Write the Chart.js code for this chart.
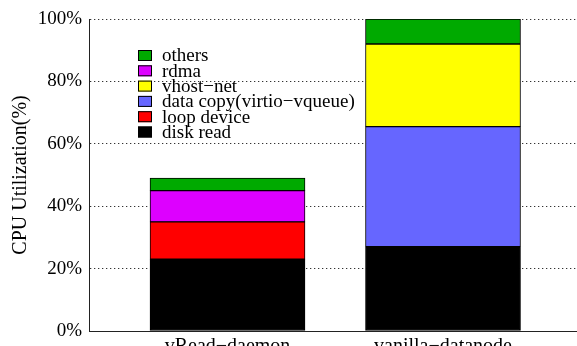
<!DOCTYPE html>
<html>
<head>
<meta charset="utf-8">
<script src="https://cdn.jsdelivr.net/npm/chart.js@4/dist/chart.umd.min.js"></script>
<style>
  html, body { margin: 0; padding: 0; background: #fff; overflow: hidden; }
  canvas { display: block; }
</style>
</head>
<body>
<canvas id="cpu" width="577" height="360"></canvas>
<script>
// Workloads on the x axis
const categories = ['vRead\u2212daemon', 'vanilla\u2212datanode'];

// CPU utilization per component (%), stacked bottom to top
const diskRead   = [23, 27];
const loopDevice = [12, null];
const dataCopy   = [null, 38.5];
const vhostNet   = [null, 26.5];
const rdma       = [10, null];
const others     = [4, 8];

// Y tick values (%)
const yTicks = [0, 20, 40, 60, 80, 100];

const seriesNames = ['disk read', 'loop device', 'data copy(virtio\u2212vqueue)', 'vhost\u2212net', 'rdma', 'others'];
const seriesValues = [diskRead, loopDevice, dataCopy, vhostNet, rdma, others];
const seriesColors = ['#000000', '#ff0000', '#6666ff', '#ffff00', '#dd00ff', '#00aa00'];

const SERIF = "'Liberation Serif', 'Times New Roman', serif";
Chart.defaults.font.family = SERIF;
Chart.defaults.color = '#000';

const datasets = seriesNames.map((name, i) => ({
  label: name,
  data: seriesValues[i].map((v, j) => ({ x: j, y: v })),
  backgroundColor: seriesColors[i],
  borderColor: '#000',
  borderWidth: 1,
  borderSkipped: false,
  barThickness: 155
}));

// Legend drawn inside the plot, listed top of stack first
const insideLegend = {
  id: 'insideLegend',
  afterDraw(chart, args, opts) {
    const ctx = chart.ctx;
    const items = chart.data.datasets.slice().reverse();
    ctx.save();
    ctx.font = opts.fontSize + 'px ' + SERIF;
    ctx.textBaseline = 'middle';
    ctx.textAlign = 'left';
    items.forEach((ds, k) => {
      const cy = opts.y + k * opts.rowHeight;
      ctx.fillStyle = ds.backgroundColor;
      ctx.fillRect(opts.x, cy - opts.boxH / 2, opts.boxW, opts.boxH);
      ctx.strokeStyle = '#000';
      ctx.lineWidth = 1;
      ctx.strokeRect(opts.x + 0.5, cy - opts.boxH / 2 + 0.5, opts.boxW - 1, opts.boxH - 1);
      ctx.fillStyle = '#000';
      ctx.fillText(ds.label, opts.x + opts.boxW + 10, cy + 1);
    });
    ctx.restore();
  }
};

new Chart(document.getElementById('cpu'), {
  type: 'bar',
  data: { datasets },
  plugins: [insideLegend],
  options: {
    responsive: false,
    animation: false,
    layout: { padding: { top: 19, right: 0, bottom: 0, left: 0 } },
    plugins: {
      legend: { display: false },
      tooltip: { enabled: false },
      insideLegend: { x: 138, y: 55.5, rowHeight: 15.3, boxW: 14, boxH: 11, fontSize: 19 }
    },
    scales: {
      x: {
        type: 'linear',
        offset: false,
        stacked: true,
        min: -0.6427,
        max: 1.6218,
        bounds: 'data',
        afterBuildTicks(scale) { scale.ticks = categories.map((c, i) => ({ value: i })); },
        afterFit(scale) { scale.height = 29; },
        grid: { display: false, offset: false },
        border: { display: true, color: '#222', width: 1 },
        ticks: {
          font: { size: 20 },
          padding: -4,
          maxRotation: 0,
          autoSkip: false,
          callback: (v) => categories[v]
        }
      },
      y: {
        stacked: true,
        min: 0,
        max: 100,
        afterBuildTicks(scale) { scale.ticks = yTicks.map(v => ({ value: v })); },
        afterFit(scale) { scale.width = 89; },
        grid: {
          color: '#333',
          lineWidth: 1,
          drawTicks: false
        },
        border: { display: true, color: '#222', width: 1, dash: [1.3, 2.7] },
        ticks: {
          font: { size: 19 },
          padding: 7,
          callback: (v) => v + '%'
        },
        title: {
          display: true,
          text: 'CPU Utilization(%)',
          font: { size: 20 },
          padding: { top: 9, bottom: 0 }
        }
      }
    }
  }
});
</script>
</body>
</html>
